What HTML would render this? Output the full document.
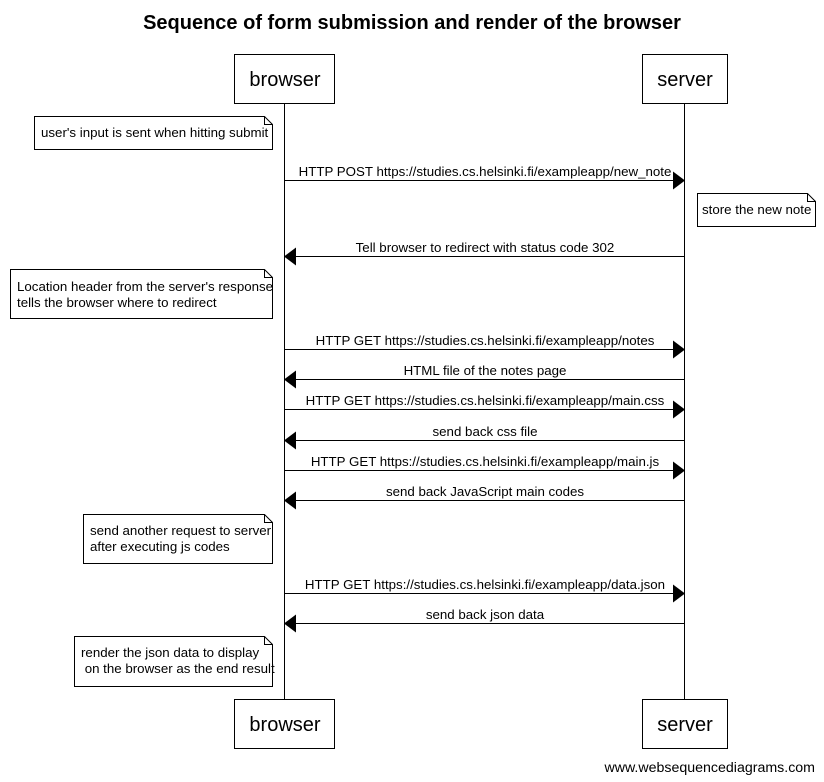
<!DOCTYPE html>
<html><head><meta charset="utf-8"><style>body{margin:0;background:#fff}svg{display:block}text{font-family:"Liberation Sans",Arial,sans-serif;fill:#000}</style></head><body>
<svg width="824" height="782" viewBox="0 0 824 782" xmlns="http://www.w3.org/2000/svg">
<text x="412" y="29" font-size="20" font-weight="bold" text-anchor="middle">Sequence of form submission and render of the browser</text>
<g stroke="#000" stroke-width="1" fill="#fff">
<line x1="284.5" y1="103" x2="284.5" y2="699"/>
<line x1="684.5" y1="103" x2="684.5" y2="699"/>
<rect x="234.5" y="54.5" width="100" height="49"/>
<rect x="642.5" y="54.5" width="85" height="49"/>
<rect x="234.5" y="699.5" width="100" height="49"/>
<rect x="642.5" y="699.5" width="85" height="49"/>
<path d="M34.5 116.5H264.5L272.5 124.5V149.5H34.5Z M264.5 116.5V124.5H272.5"/>
<path d="M697.5 193.5H807.5L815.5 201.5V226.5H697.5Z M807.5 193.5V201.5H815.5"/>
<path d="M10.5 269.5H264.5L272.5 277.5V318.5H10.5Z M264.5 269.5V277.5H272.5"/>
<path d="M83.5 514.5H264.5L272.5 522.5V563.5H83.5Z M264.5 514.5V522.5H272.5"/>
<path d="M74.5 636.5H264.5L272.5 644.5V686.5H74.5Z M264.5 636.5V644.5H272.5"/>
</g>
<g font-size="20" text-anchor="middle">
<text x="285" y="86">browser</text><text x="685" y="86">server</text>
<text x="285" y="731">browser</text><text x="685" y="731">server</text>
</g>
<g stroke="#000" stroke-width="1">
<line x1="284" y1="180.5" x2="674" y2="180.5"/><line x1="294" y1="256.5" x2="684" y2="256.5"/>
<line x1="284" y1="349.5" x2="674" y2="349.5"/><line x1="294" y1="379.5" x2="684" y2="379.5"/>
<line x1="284" y1="409.5" x2="674" y2="409.5"/><line x1="294" y1="440.5" x2="684" y2="440.5"/>
<line x1="284" y1="470.5" x2="674" y2="470.5"/><line x1="294" y1="500.5" x2="684" y2="500.5"/>
<line x1="284" y1="593.5" x2="674" y2="593.5"/><line x1="294" y1="623.5" x2="684" y2="623.5"/>
</g>
<g fill="#000">
<path d="M685 180.5L673 171.5V189.5Z"/><path d="M284 256.5L296 247.5V265.5Z"/>
<path d="M685 349.5L673 340.5V358.5Z"/><path d="M284 379.5L296 370.5V388.5Z"/>
<path d="M685 409.5L673 400.5V418.5Z"/><path d="M284 440.5L296 431.5V449.5Z"/>
<path d="M685 470.5L673 461.5V479.5Z"/><path d="M284 500.5L296 491.5V509.5Z"/>
<path d="M685 593.5L673 584.5V602.5Z"/><path d="M284 623.5L296 614.5V632.5Z"/>
</g>
<g font-size="13.3" text-anchor="middle">
<text x="485" y="176">HTTP POST https://studies.cs.helsinki.fi/exampleapp/new_note</text>
<text x="485" y="252">Tell browser to redirect with status code 302</text>
<text x="485" y="345">HTTP GET https://studies.cs.helsinki.fi/exampleapp/notes</text>
<text x="485" y="375">HTML file of the notes page</text>
<text x="485" y="405">HTTP GET https://studies.cs.helsinki.fi/exampleapp/main.css</text>
<text x="485" y="436">send back css file</text>
<text x="485" y="466">HTTP GET https://studies.cs.helsinki.fi/exampleapp/main.js</text>
<text x="485" y="496">send back JavaScript main codes</text>
<text x="485" y="589">HTTP GET https://studies.cs.helsinki.fi/exampleapp/data.json</text>
<text x="485" y="619">send back json data</text>
</g>
<g font-size="13.3">
<text x="41" y="137">user's input is sent when hitting submit</text>
<text x="702" y="214">store the new note</text>
<text x="17" y="291">Location header from the server's response</text>
<text x="17" y="307">tells the browser where to redirect</text>
<text x="90" y="535">send another request to server</text>
<text x="90" y="551">after executing js codes</text>
<text x="81" y="657">render the json data to display</text>
<text x="81" y="673" xml:space="preserve"> on the browser as the end result</text>
</g>
<text x="815" y="772" font-size="14.2" text-anchor="end">www.websequencediagrams.com</text>
</svg>
</body></html>
